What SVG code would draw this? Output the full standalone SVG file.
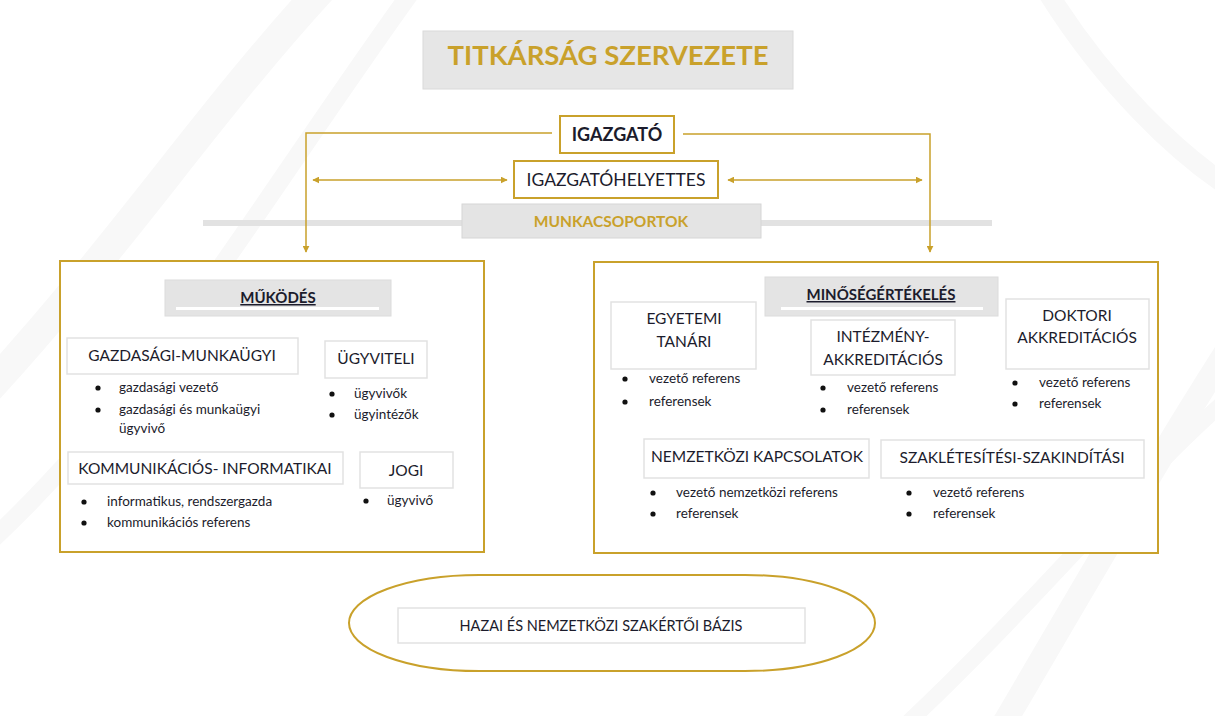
<svg xmlns="http://www.w3.org/2000/svg" width="1215" height="716" viewBox="0 0 1215 716">
<defs>
<style>
.t{font-family:Lato,"Open Sans","Liberation Sans",sans-serif;fill:#1c1c2c}
.bx{fill:#fff;stroke:#e2e2e2;stroke-width:1.5}
.gb{fill:#fff;stroke:#c9a12b;stroke-width:2}
.hd{fill:#e4e4e4;stroke:#dcdcdc;stroke-width:1}
.h{font-size:15.5px;text-anchor:middle}
.l{font-size:13.5px}
.u{font-size:15px;font-weight:bold;text-anchor:middle;text-decoration:underline}
.c{stroke:#c9a12b;stroke-width:1.5;fill:none}
.bg{stroke:#f8f8f8;fill:none}
</style>
<marker id="ah" viewBox="0 0 10 10" refX="9" refY="5" markerWidth="7" markerHeight="7" orient="auto-start-reverse" markerUnits="userSpaceOnUse">
<path d="M0,0 L10,5 L0,10 z" fill="#c9a12b"/>
</marker>
<symbol id="dot"><circle cx="3" cy="3" r="2.6" fill="#111"/></symbol>
</defs>
<rect width="1215" height="716" fill="#fff"/>
<g id="background">
<path class="bg" stroke-width="30" d="M-40,420 C120,250 200,120 330,-20"/>
<path class="bg" stroke-width="18" d="M-30,560 C150,400 260,200 420,-20"/>
<path class="bg" stroke-width="24" d="M1000,730 C1100,560 1180,420 1260,300"/>
<path class="bg" stroke-width="16" d="M900,730 C1040,600 1150,460 1250,380"/>
<path class="bg" stroke-width="20" d="M1040,-20 C1100,80 1180,160 1250,200"/>
</g>
<g id="title">
<rect x="423" y="31" width="370" height="58" fill="#e6e6e6" stroke="#dadada"/>
<text class="t" x="608" y="65" font-size="27.5" font-weight="bold" text-anchor="middle" style="fill:#c9a12b">TITKÁRSÁG SZERVEZETE</text>
</g>
<g id="munkacsoportok">
<rect x="203" y="220" width="789" height="6" fill="#e2e2e2"/>
<rect x="462" y="204" width="299" height="34" fill="#e4e4e4" stroke="#d6d6d6"/>
<text class="t" x="611" y="227" font-size="15.5" font-weight="bold" text-anchor="middle" style="fill:#c9a12b">MUNKACSOPORTOK</text>
</g>
<g id="connectors">
<polyline class="c" points="552,133 306,133 306,252" marker-end="url(#ah)"/>
<polyline class="c" points="683,134 930,134 930,252" marker-end="url(#ah)"/>
<line class="c" x1="313" y1="180" x2="507" y2="180" marker-start="url(#ah)" marker-end="url(#ah)"/>
<line class="c" x1="728" y1="180" x2="922" y2="180" marker-start="url(#ah)" marker-end="url(#ah)"/>
</g>
<g id="igazgato">
<rect class="gb" x="560" y="116" width="114" height="37"/>
<text class="t" x="617" y="141" font-size="18" font-weight="bold" text-anchor="middle">IGAZGATÓ</text>
</g>
<g id="igazgatohelyettes">
<rect class="gb" x="514" y="161" width="204" height="37"/>
<text class="t" x="616" y="186" font-size="17.5" text-anchor="middle">IGAZGATÓHELYETTES</text>
</g>
<g id="mukodes">
<rect class="gb" x="60" y="261" width="424" height="291"/>
<rect class="hd" x="165" y="280" width="226" height="36"/>
<rect x="176" y="307" width="203" height="3" fill="#fff"/>
<text class="t u" x="278" y="303">MŰKÖDÉS</text>
</g>
<g id="gazdasagi">
<rect class="bx" x="67" y="338" width="231" height="36"/>
<text class="t h" x="182" y="361">GAZDASÁGI-MUNKAÜGYI</text>
<use href="#dot" x="95" y="385"/><text class="t l" x="119" y="392">gazdasági vezető</text>
<use href="#dot" x="95" y="407"/><text class="t l" x="119" y="414">gazdasági és munkaügyi</text>
<text class="t l" x="119" y="433">ügyvivő</text>
</g>
<g id="ugyviteli">
<rect class="bx" x="325" y="341" width="102" height="37"/>
<text class="t h" x="376" y="364">ÜGYVITELI</text>
<use href="#dot" x="329" y="391"/><text class="t l" x="354" y="398">ügyvivők</text>
<use href="#dot" x="329" y="412"/><text class="t l" x="354" y="419">ügyintézők</text>
</g>
<g id="kommunikacios">
<rect class="bx" x="68" y="452" width="275" height="32"/>
<text class="t h" x="205" y="474">KOMMUNIKÁCIÓS- INFORMATIKAI</text>
<use href="#dot" x="81" y="499"/><text class="t l" x="107" y="506">informatikus, rendszergazda</text>
<use href="#dot" x="81" y="520"/><text class="t l" x="107" y="527">kommunikációs referens</text>
</g>
<g id="jogi">
<rect class="bx" x="360" y="452" width="93" height="36"/>
<text class="t h" x="406" y="476">JOGI</text>
<use href="#dot" x="363" y="498"/><text class="t l" x="387" y="505">ügyvivő</text>
</g>
<g id="minosegertekeles">
<rect class="gb" x="594" y="262" width="564" height="291"/>
<rect class="hd" x="765" y="277" width="233" height="39"/>
<rect x="781" y="307" width="202" height="3" fill="#fff"/>
<text class="t u" x="881" y="300">MINŐSÉGÉRTÉKELÉS</text>
</g>
<g id="egyetemi">
<rect class="bx" x="611" y="302" width="145" height="67"/>
<text class="t h" x="684" y="324">EGYETEMI</text>
<text class="t h" x="684" y="347">TANÁRI</text>
<use href="#dot" x="622" y="376"/><text class="t l" x="649" y="383">vezető referens</text>
<use href="#dot" x="622" y="399"/><text class="t l" x="649" y="406">referensek</text>
</g>
<g id="intezmeny">
<rect class="bx" x="811" y="320" width="144" height="55"/>
<text class="t h" x="883" y="342">INTÉZMÉNY-</text>
<text class="t h" x="883" y="365">AKKREDITÁCIÓS</text>
<use href="#dot" x="820" y="385"/><text class="t l" x="847" y="392">vezető referens</text>
<use href="#dot" x="820" y="407"/><text class="t l" x="847" y="414">referensek</text>
</g>
<g id="doktori">
<rect class="bx" x="1006" y="299" width="143" height="70"/>
<text class="t h" x="1077" y="321">DOKTORI</text>
<text class="t h" x="1077" y="343">AKKREDITÁCIÓS</text>
<use href="#dot" x="1012" y="380"/><text class="t l" x="1039" y="387">vezető referens</text>
<use href="#dot" x="1012" y="401"/><text class="t l" x="1039" y="408">referensek</text>
</g>
<g id="nemzetkozi">
<rect class="bx" x="644" y="439" width="225" height="39"/>
<text class="t h" x="757" y="462">NEMZETKÖZI KAPCSOLATOK</text>
<use href="#dot" x="650" y="490"/><text class="t l" x="676" y="497">vezető nemzetközi referens</text>
<use href="#dot" x="650" y="511"/><text class="t l" x="676" y="518">referensek</text>
</g>
<g id="szakletesitesi">
<rect class="bx" x="881" y="440" width="263" height="38"/>
<text class="t h" x="1012" y="463">SZAKLÉTESÍTÉSI-SZAKINDÍTÁSI</text>
<use href="#dot" x="906" y="490"/><text class="t l" x="933" y="497">vezető referens</text>
<use href="#dot" x="906" y="511"/><text class="t l" x="933" y="518">referensek</text>
</g>
<g id="szakertoi">
<rect x="349" y="575" width="526" height="96" rx="130" ry="48" fill="#fff" stroke="#c9a12b" stroke-width="2"/>
<rect class="bx" x="398" y="608" width="407" height="35"/>
<text class="t" x="601" y="631" font-size="14.5" text-anchor="middle">HAZAI ÉS NEMZETKÖZI SZAKÉRTŐI BÁZIS</text>
</g>
</svg>
